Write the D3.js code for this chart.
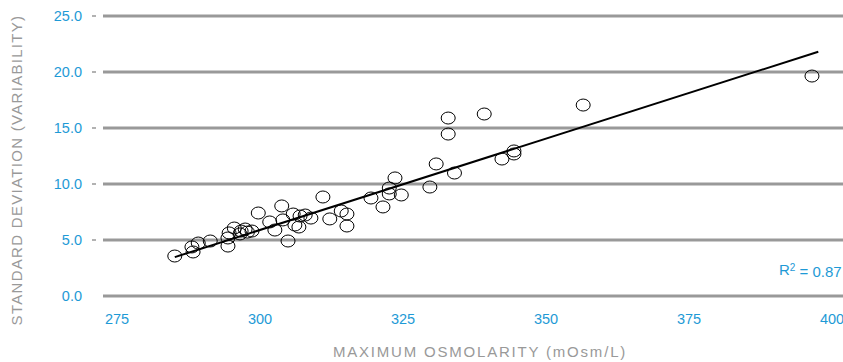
<!DOCTYPE html>
<html>
<head>
<meta charset="utf-8">
<script src="https://cdn.jsdelivr.net/npm/d3@7"></script>
<style>
  body { margin: 0; background: #fff; }
  svg { display: block; font-family: "Liberation Sans", Arial, sans-serif; }
</style>
</head>
<body>
<script>
// data
var osmolarity = [285.1, 288.3, 288.1, 289.2, 291.3, 294.4, 294.4, 294.6, 295.5, 296.5,
                  296.7, 297.4, 297.8, 298.6, 299.7, 301.7, 302.6, 303.8, 304.0, 304.9,
                  305.8, 306.1, 306.8, 307.0, 307.9, 308.9, 311.0, 312.2, 314.2, 315.2,
                  315.2, 319.4, 321.5, 322.6, 322.6, 323.6, 324.7, 329.7, 330.8, 332.9,
                  332.9, 334.0, 339.2, 342.3, 344.4, 344.4, 356.5, 396.5];
var stdDev = [3.57, 3.93, 4.38, 4.73, 4.91, 4.46, 5.18, 5.63, 6.07, 5.54,
              5.80, 5.98, 5.71, 5.80, 7.41, 6.61, 5.89, 8.04, 6.79, 4.91,
              7.32, 6.34, 6.16, 7.14, 7.23, 6.96, 8.84, 6.88, 7.59, 7.32,
              6.25, 8.75, 7.95, 9.11, 9.64, 10.54, 9.02, 9.73, 11.79, 15.89,
              14.46, 10.98, 16.25, 12.23, 12.68, 12.95, 17.05, 19.64];
var yTicks = [0, 5, 10, 15, 20, 25];
var xTicks = [275, 300, 325, 350, 375, 400];
// trend line (linear fit), r squared shown on the chart
var trendSlope = 0.163;
var trendIntercept = -43.0;
var trendEnd = 397.6;
var rSquared = "0.87";

var width = 843, height = 362;
var blue = "#1e9ad6", grey = "#999999";

var svg = d3.select("body").append("svg")
    .attr("width", width)
    .attr("height", height);

var xScale = d3.scaleLinear().domain([275, 400]).range([117, 832]);
var yScale = d3.scaleLinear().domain([0, 25]).range([296, 16]);

// gridlines
svg.append("g").selectAll("line")
    .data(yTicks)
    .enter().append("line")
    .attr("x1", 103).attr("x2", width)
    .attr("y1", function(d) { return yScale(d); })
    .attr("y2", function(d) { return yScale(d); })
    .attr("stroke", grey)
    .attr("stroke-width", 3);

// small dashes next to the y labels
svg.append("g").selectAll("line")
    .data(yTicks.filter(function(d) { return d > 0; }))
    .enter().append("line")
    .attr("x1", 92).attr("x2", 96)
    .attr("y1", function(d) { return yScale(d); })
    .attr("y2", function(d) { return yScale(d); })
    .attr("stroke", grey)
    .attr("stroke-width", 1.5);

// y labels
svg.append("g").selectAll("text")
    .data(yTicks)
    .enter().append("text")
    .attr("x", 82)
    .attr("y", function(d) { return yScale(d); })
    .attr("dy", "0.35em")
    .attr("text-anchor", "end")
    .attr("fill", blue)
    .style("font-size", "14.5px")
    .text(function(d) { return d.toFixed(1); });

// x labels
svg.append("g").selectAll("text")
    .data(xTicks)
    .enter().append("text")
    .attr("x", function(d) { return xScale(d); })
    .attr("y", 319)
    .attr("dy", "0.35em")
    .attr("text-anchor", "middle")
    .attr("fill", blue)
    .style("font-size", "14.5px")
    .text(function(d) { return d; });

// axis titles
svg.append("text")
    .attr("x", 480).attr("y", 352)
    .attr("dy", "0.35em")
    .attr("text-anchor", "middle")
    .attr("fill", grey)
    .style("font-size", "15px")
    .style("letter-spacing", "1.8px")
    .text("MAXIMUM OSMOLARITY (mOsm/L)");

svg.append("text")
    .attr("transform", "translate(17,170) rotate(-90)")
    .attr("dy", "0.35em")
    .attr("text-anchor", "middle")
    .attr("fill", grey)
    .style("font-size", "15px")
    .style("letter-spacing", "1.3px")
    .text("STANDARD DEVIATION (VARIABILITY)");

// points
var pts = d3.zip(osmolarity, stdDev);
svg.append("g").selectAll("ellipse")
    .data(pts)
    .enter().append("ellipse")
    .attr("cx", function(d) { return xScale(d[0]); })
    .attr("cy", function(d) { return yScale(d[1]); })
    .attr("rx", 7)
    .attr("ry", 6)
    .attr("fill", "none")
    .attr("stroke", "#000")
    .attr("stroke-width", 1);

// trend line over the data range
var xStart = d3.min(osmolarity);
svg.append("line")
    .attr("x1", xScale(xStart))
    .attr("y1", yScale(trendSlope * xStart + trendIntercept))
    .attr("x2", xScale(trendEnd))
    .attr("y2", yScale(trendSlope * trendEnd + trendIntercept))
    .attr("stroke", "#000")
    .attr("stroke-width", 2);

// r squared
var r2 = svg.append("text")
    .attr("x", 779).attr("y", 270)
    .attr("dy", "0.35em")
    .attr("fill", blue)
    .style("font-size", "15px");
r2.append("tspan").text("R");
r2.append("tspan").attr("dy", "-0.4em").style("font-size", "10px").text("2");
r2.append("tspan").attr("dy", "0.4em").text(" = " + rSquared);
</script>
</body>
</html>
